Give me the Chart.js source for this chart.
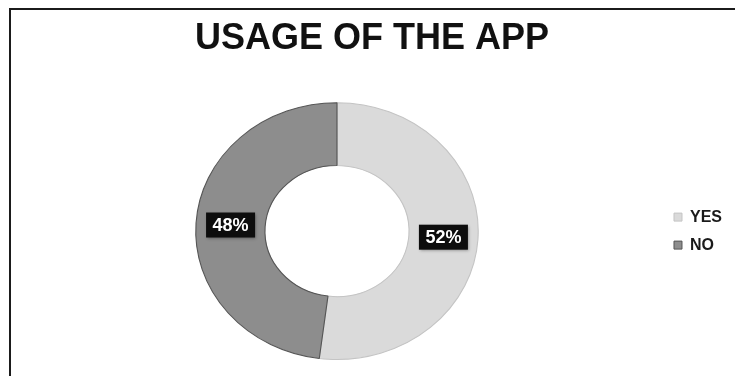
<!DOCTYPE html>
<html>
<head>
<meta charset="utf-8">
<script src="https://cdn.jsdelivr.net/npm/chart.js@4.4.0/dist/chart.umd.min.js"></script>
<style>
  html, body { margin: 0; padding: 0; background: #fff; overflow: hidden; }
  #wrap { position: relative; width: 735px; height: 376px; }
  #frame { position: absolute; left: 9px; top: 8px; width: 760px; height: 400px;
           border-top: 2px solid #1b1b1b; border-left: 2px solid #1b1b1b; }
  #usageChart { position: absolute; left: 0; top: 0; }
</style>
</head>
<body>
<div id="wrap">
  <div id="frame"></div>
  <canvas id="usageChart" width="735" height="376"></canvas>
</div>
<script>
const categories = ['YES', 'NO'];
const usageValues = [52, 48];
const sliceColors = ['#dadada', '#8d8d8d'];
const sliceBorders = ['#c4c4c4', '#555555'];

// the original picture is stretched sideways, so the ring is an ellipse
const stretchX = 1.1;

const ellipseLabels = {
  id: 'ellipseLabels',
  beforeDatasetsDraw(chart) {
    const {ctx, chartArea} = chart;
    const cx = (chartArea.left + chartArea.right) / 2;
    const cy = (chartArea.top + chartArea.bottom) / 2;
    ctx.save();
    ctx.translate(cx, cy);
    ctx.scale(stretchX, 1);
    ctx.translate(-cx, -cy);
  },
  afterDatasetsDraw(chart) {
    const {ctx, chartArea} = chart;
    ctx.restore();
    const cx = (chartArea.left + chartArea.right) / 2;
    const meta = chart.getDatasetMeta(0);
    ctx.save();
    ctx.font = 'bold 18px "Liberation Sans", Arial, sans-serif';
    ctx.textAlign = 'center';
    ctx.textBaseline = 'middle';
    meta.data.forEach((arc, i) => {
      const p = arc.tooltipPosition();
      const x = cx + (p.x - cx) * stretchX;
      const y = p.y;
      const w = 49, h = 25;
      ctx.shadowColor = 'rgba(0,0,0,0.35)';
      ctx.shadowBlur = 3;
      ctx.shadowOffsetX = 1;
      ctx.shadowOffsetY = 1;
      ctx.fillStyle = '#0d0d0d';
      ctx.fillRect(x - w / 2, y - h / 2, w, h);
      ctx.shadowColor = 'transparent';
      ctx.fillStyle = '#ffffff';
      ctx.fillText(usageValues[i] + '%', x, y + 1);
    });
    ctx.restore();
  }
};

const ctx = document.getElementById('usageChart').getContext('2d');
const usageChart = new Chart(ctx, {
  type: 'doughnut',
  data: {
    labels: categories,
    datasets: [{
      data: usageValues,
      backgroundColor: sliceColors,
      borderColor: sliceBorders,
      borderWidth: 1,
      cutout: '51%'
    }]
  },
  options: {
    responsive: false,
    animation: false,
    events: [],
    layout: {
      padding: { left: 12, right: 3, top: 0, bottom: 16 }
    },
    plugins: {
      title: {
        display: true,
        text: 'USAGE OF THE APP',
        color: '#111111',
        font: { family: '"Liberation Sans", Arial, sans-serif', size: 36, weight: 'bold' },
        padding: { top: 17, bottom: 42 }
      },
      legend: {
        position: 'right',
        fullSize: false,
        labels: {
          color: '#1a1a1a',
          boxWidth: 8,
          boxHeight: 8,
          padding: 12,
          font: { family: '"Liberation Sans", Arial, sans-serif', size: 16, weight: 'bold' }
        }
      },
      tooltip: { enabled: false }
    }
  },
  plugins: [ellipseLabels]
});
</script>
</body>
</html>
